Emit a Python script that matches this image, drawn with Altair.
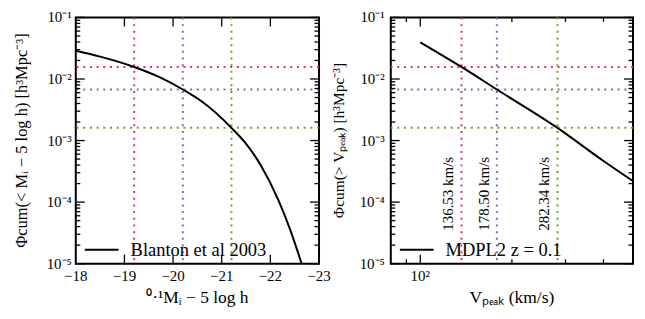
import altair as alt
import pandas as pd

# ---- data ----
mag = [-18.0, -18.5, -19.2, -19.7, -20.2, -20.6, -21.2, -21.47, -21.8, -22.16, -22.39, -22.7]
phi_mag = [0.0288, 0.0231, 0.0157, 0.0109, 0.00675, 0.00426, 0.00161, 9.5e-4, 4.0e-4, 1.1e-4, 3.9e-5, 7.2e-6]

vpeak = [100.0, 136.53, 178.50, 282.34, 400.0, 500.0]
phi_v = [0.0394, 0.0157, 0.00675, 0.00161, 4.66e-4, 2.2e-4]

mag_thresh = [-19.2, -20.2, -21.2]
v_thresh = [136.53, 178.50, 282.34]
v_labels = ["136.53 km/s", "178.50 km/s", "282.34 km/s"]
phi_thresh = [0.0157, 0.00675, 0.00161]
thresh_colors = ["#e7298a", "#7570b3", "#66a61e"]

y_major = [1e-5, 1e-4, 1e-3, 1e-2, 1e-1]
y_tick_labels = ["10\u207b\u2075", "10\u207b\u2074", "10\u207b\u00b3", "10\u207b\u00b2", "10\u207b\u00b9"]
y_minor = [k * 10.0 ** d for d in range(-5, -1) for k in range(2, 10)]
mag_major = [-19, -20, -21, -22]
mag_label_vals = [-18, -19, -20, -21, -22, -23]
mag_labels = ["\u221218", "\u221219", "\u221220", "\u221221", "\u221222", "\u221223"]
v_major = [100]
v_minor = [90, 200, 300, 400]
v_label_vals = [100]
v_tick_labels = ["10\u00b2"]

left_ytitle = "\u03a6cum(< M\u1d62 \u2212 5 log h)  [h\u00b3Mpc\u207b\u00b3]"
left_xtitle = "\u2070\u00b7\u00b9M\u1d62 \u2212 5 log h"
right_ytitle = "\u03a6cum(> V\u209a\u2091\u2090\u2096)  [h\u00b3Mpc\u207b\u00b3]"
right_xtitle = "V\u209a\u2091\u2090\u2096 (km/s)"

W, H = 244, 247
FONT = "Liberation Serif"
MAJ, MIN = 9, 4.5

yscale = alt.Scale(type="log", domain=[1e-5, 1e-1], nice=False)

VSHAPE = "M0,-1L0,1"   # vertical tick glyph
HSHAPE = "M-1,0L1,0"   # horizontal tick glyph


def tick_layers(xfield, xscale, xmaj, xmin, w):
    out = []
    for vals, L in ((xmaj, MAJ), (xmin, MIN)):
        if not vals:
            continue
        d = pd.DataFrame({xfield: vals})
        for yp in (L / 2, H - L / 2):
            out.append(alt.Chart(d).mark_point(shape=VSHAPE, size=L * L, color="black", filled=False,
                                               strokeWidth=1.3, opacity=1).encode(
                x=alt.X(f"{xfield}:Q", scale=xscale, axis=None), y=alt.value(yp)))
    for vals, L in ((y_major, MAJ), (y_minor, MIN)):
        d = pd.DataFrame({"phi": vals})
        for xp in (L / 2, w - L / 2):
            out.append(alt.Chart(d).mark_point(shape=HSHAPE, size=L * L, color="black", filled=False,
                                               strokeWidth=1.3, opacity=1).encode(
                y=alt.Y("phi:Q", scale=yscale, axis=None), x=alt.value(xp)))
    return out


def ref_layers(xfield, xscale, thresh_x):
    out = []
    for xv, yv, c in zip(thresh_x, phi_thresh, thresh_colors):
        d = pd.DataFrame({xfield: [xv], "phi": [yv]})
        out.append(alt.Chart(d).mark_rule(color=c, strokeWidth=2, strokeDash=[2, 4.7]).encode(
            x=alt.X(f"{xfield}:Q", scale=xscale, axis=None)))
        out.append(alt.Chart(d).mark_rule(color=c, strokeWidth=2, strokeDash=[2, 4.7]).encode(
            y=alt.Y("phi:Q", scale=yscale, axis=None)))
    return out


def label_layers(xfield, xscale, xvals, xlabels, ylab_x, ytitle, ytitle_x, xtitle, w, ytitle_size):
    xd = pd.DataFrame({xfield: xvals, "label": xlabels})
    yd = pd.DataFrame({"phi": y_major, "label": y_tick_labels})
    return [
        alt.Chart(xd).mark_text(font=FONT, fontSize=15, color="black", align="center",
                                baseline="middle").encode(
            x=alt.X(f"{xfield}:Q", scale=xscale, axis=None), y=alt.value(H + 12), text="label:N"),
        alt.Chart(yd).mark_text(font=FONT, fontSize=15, color="black", align="right",
                                baseline="middle").encode(
            y=alt.Y("phi:Q", scale=yscale, axis=None), x=alt.value(ylab_x), text="label:N"),
        alt.Chart(pd.DataFrame({"t": [ytitle]})).mark_text(
            font=FONT, fontSize=ytitle_size, color="black", angle=270, align="center",
            baseline="middle").encode(x=alt.value(ytitle_x), y=alt.value(H / 2), text="t:N"),
        alt.Chart(pd.DataFrame({"t": [xtitle]})).mark_text(
            font=FONT, fontSize=17.5, color="black", align="center", baseline="middle").encode(
            x=alt.value(w / 2), y=alt.value(H + 34), text="t:N"),
    ]


def curve_layer(df, xfield, xscale):
    return alt.Chart(df).mark_line(color="black", strokeWidth=2, clip=True,
                                   interpolate="monotone").encode(
        x=alt.X(f"{xfield}:Q", scale=xscale, axis=None),
        y=alt.Y("phi:Q", scale=yscale, axis=None),
        color=alt.Color("series:N", scale=alt.Scale(range=["black"]),
                        legend=alt.Legend(title=None, orient="none", legendX=8, legendY=215, padding=0,
                                          symbolType="stroke", symbolSize=1150, symbolStrokeWidth=2,
                                          labelFont=FONT, labelFontSize=18.5, labelColor="black",
                                          labelOffset=11, symbolStrokeColor="black")),
    )


# left panel
left_df = pd.DataFrame({"mag": mag, "phi": phi_mag, "series": "Blanton et al 2003"})
lx_scale = alt.Scale(domain=[-23, -18], reverse=True, nice=False)
left = alt.layer(
    *ref_layers("mag", lx_scale, mag_thresh),
    *label_layers("mag", lx_scale, mag_label_vals, mag_labels, -4, left_ytitle, -54, left_xtitle, W, 16.5),
    curve_layer(left_df, "mag", lx_scale),
    *tick_layers("mag", lx_scale, mag_major, None, W),
).properties(width=W, height=H)

# right panel
WR = W - 1
right_df = pd.DataFrame({"v": vpeak, "phi": phi_v, "series": "MDPL2 z = 0.1"})
rx_scale = alt.Scale(type="log", domain=[80, 500], nice=False)
lab_df = pd.DataFrame({"v": v_thresh, "label": v_labels})
rtext = alt.Chart(lab_df).mark_text(angle=270, align="left", baseline="bottom", dy=-5,
                                    font=FONT, fontSize=15, color="black").encode(
    x=alt.X("v:Q", scale=rx_scale, axis=None), y=alt.value(214), text="label:N")
right = alt.layer(
    *ref_layers("v", rx_scale, v_thresh),
    *label_layers("v", rx_scale, v_label_vals, v_tick_labels, -6, right_ytitle, -52, right_xtitle, WR, 15.5),
    rtext,
    curve_layer(right_df, "v", rx_scale),
    *tick_layers("v", rx_scale, v_major, v_minor, WR),
).properties(width=WR, height=H)

chart = alt.hconcat(left, right, spacing=72, bounds="flush").resolve_scale(
    color="independent").properties(
    padding={"left": 4, "top": 1, "right": 0, "bottom": 0}, background="white").configure_view(
    stroke="black", strokeWidth=2)
chart.save("out.html", embed_options={"renderer": "svg", "actions": False})
